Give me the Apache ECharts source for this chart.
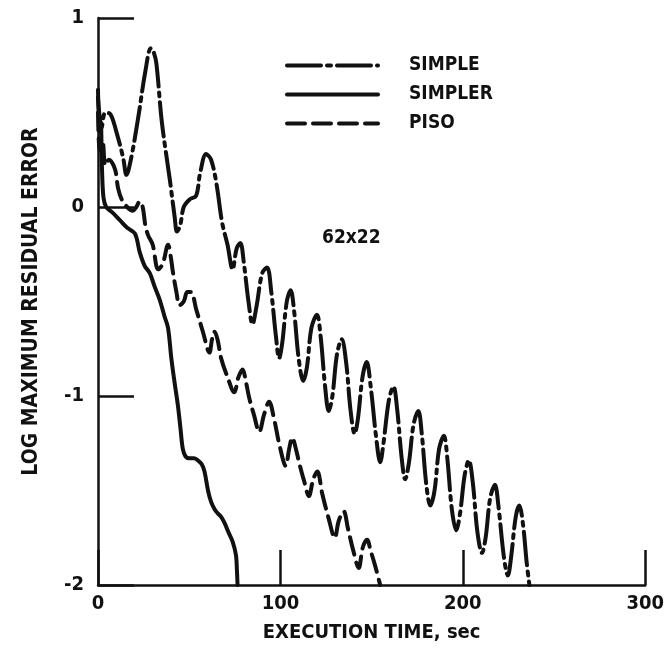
<!DOCTYPE html>
<html>
<head>
<meta charset="utf-8">
<title>Log maximum residual error vs execution time</title>
<script src="https://cdn.jsdelivr.net/npm/echarts@6/dist/echarts.min.js"></script>
<style>
  html, body { margin: 0; padding: 0; background: #fff; }
  #chart { width: 667px; height: 658px; }
</style>
</head>
<body>
<div id="chart"></div>
<script>
// Convergence histories on the 62x22 grid: [execution time (s), log10 of max residual]
var simple = [
  [0, 0.58], [2, 0.42], [4, 0.5], [6.9, 0.49], [10, 0.40], [13.8, 0.26], [15.6, 0.17],
  [18, 0.25], [22, 0.47], [26, 0.72], [29, 0.84], [30.5, 0.82], [32, 0.76], [35, 0.45],
  [39.3, 0.15], [42, -0.05], [43.3, -0.13], [45, -0.1], [47, 0.0], [50.2, 0.04],
  [53.8, 0.06], [56, 0.18], [59.3, 0.28], [62, 0.25], [65, 0.12], [68, -0.08],
  [71, -0.2], [73.8, -0.33], [76, -0.22], [78, -0.19], [80, -0.3], [82.5, -0.5],
  [84.7, -0.62], [87, -0.52], [90, -0.35], [92.7, -0.32], [95, -0.45], [97.5, -0.68],
  [99.3, -0.80], [101, -0.72], [103.5, -0.5], [105.6, -0.44], [107.5, -0.55],
  [110, -0.8], [112.5, -0.92], [114.5, -0.85], [117, -0.64], [120, -0.57], [122, -0.68],
  [124.5, -0.95], [126.5, -1.08], [128.5, -1.0], [131, -0.78], [133.6, -0.70],
  [136, -0.82], [138.5, -1.08], [140.7, -1.20], [142.5, -1.12], [145, -0.9],
  [147.3, -0.82], [149.5, -0.95], [152.5, -1.22], [154.7, -1.35], [156.5, -1.25],
  [159.5, -1.02], [162, -0.95], [164, -1.07], [166.5, -1.33], [168.4, -1.44],
  [170.5, -1.35], [173, -1.15], [175.6, -1.08], [177.5, -1.2], [180, -1.47],
  [182.2, -1.58], [184.5, -1.5], [187, -1.28], [189.6, -1.21], [191.5, -1.33],
  [194, -1.6], [196.4, -1.71], [198.5, -1.62], [201, -1.42], [203.3, -1.34],
  [205.5, -1.46], [208, -1.72], [210.5, -1.83], [212.5, -1.75], [215, -1.54],
  [217.6, -1.47], [219.5, -1.58], [222.5, -1.85], [224.7, -1.95], [226.5, -1.85],
  [229, -1.64], [231, -1.58], [233, -1.68], [235, -1.88], [236.5, -2.0]
];

var simpler = [
  [0, 0.62], [0.8, 0.4], [1.5, 0.45], [2.2, 0.2], [3, 0.05], [4.5, 0.0], [8, -0.03],
  [12, -0.07], [16, -0.11], [20.2, -0.14], [22.9, -0.24], [25.5, -0.31], [28.4, -0.35],
  [31, -0.42], [33.8, -0.49], [36.5, -0.58], [38.4, -0.64], [40.2, -0.80], [42, -0.93],
  [43.8, -1.05], [45.2, -1.17], [46.5, -1.28], [48, -1.32], [50.2, -1.33],
  [52.5, -1.33], [54.7, -1.34], [56.8, -1.36], [58.4, -1.40], [60.3, -1.5], [62, -1.56],
  [64, -1.6], [65.6, -1.62], [67.5, -1.64], [69.3, -1.67], [71.5, -1.72], [73.8, -1.77],
  [75.6, -1.84], [76.2, -1.93], [76.5, -2.0]
];

var piso = [
  [0, 0.5], [1, 0.3], [2.5, 0.35], [4, 0.22], [6, 0.25], [9.3, 0.2], [11, 0.1],
  [13, 0.04], [16, 0.0], [19, -0.02], [21, 0.0], [22.9, 0.03], [24.5, 0.0], [26, -0.1],
  [27.5, -0.15], [30, -0.2], [33, -0.33], [35.5, -0.3], [38.4, -0.2], [40, -0.27],
  [41, -0.34], [43, -0.45], [44.7, -0.52], [47, -0.5], [49, -0.45], [51, -0.45],
  [53.8, -0.54], [57.5, -0.66], [61.1, -0.77], [62.5, -0.70], [63.8, -0.66],
  [65.5, -0.70], [67.5, -0.80], [71, -0.90], [74.7, -0.98], [77, -0.9], [79.3, -0.86],
  [81, -0.92], [82.9, -1.01], [85.5, -1.1], [88.4, -1.19], [91, -1.1], [93.8, -1.03],
  [96.5, -1.12], [99.5, -1.26], [102.9, -1.37], [104.8, -1.28], [106.5, -1.22],
  [108.5, -1.28], [110.2, -1.35], [113, -1.45], [115.6, -1.53], [118, -1.44],
  [120.2, -1.40], [123, -1.52], [126.5, -1.65], [129.8, -1.75], [132, -1.66],
  [134.7, -1.61], [137, -1.70], [140, -1.82], [142.9, -1.91], [145.2, -1.8],
  [147.5, -1.76], [149.5, -1.82], [152, -1.9], [154.7, -2.0]
];

var seriesNames = ['SIMPLE', 'SIMPLER', 'PISO'];
var xTicks = [0, 100, 200, 300];
var yTicks = [-2, -1, 0, 1];
var gridLabel = '62x22';

var FONT = "'Liberation Sans Narrow', 'DejaVu Sans Condensed', 'Noto Sans', sans-serif";
var INK = '#111';

var chart = echarts.init(document.getElementById('chart'), null, { renderer: 'canvas' });

function lineSeries(name, data, type) {
  return {
    name: name,
    type: 'line',
    data: data,
    smooth: 0.35,
    symbol: 'none',
    lineStyle: { color: INK, width: 4, type: type, cap: 'round', join: 'round' },
    itemStyle: { color: INK },
    z: 3
  };
}

var labelFont = { fontFamily: FONT, fontSize: 20, fontWeight: 'bold', color: INK };

chart.setOption({
  backgroundColor: '#fff',
  animation: false,
  textStyle: { fontFamily: FONT, color: INK },
  grid: { left: 98, right: 19, top: 18, bottom: 73 },
  legend: {
    orient: 'vertical',
    left: 285,
    top: 56,
    padding: 0,
    itemWidth: 91,
    itemHeight: 14,
    itemGap: 10,
    data: seriesNames,
    itemStyle: { opacity: 0 },
    lineStyle: { width: 4, color: INK },
    textStyle: { fontFamily: FONT, fontSize: 19, fontWeight: 'bold', color: INK, padding: [0, 0, 0, 26] }
  },
  xAxis: {
    type: 'value',
    min: xTicks[0],
    max: xTicks[xTicks.length - 1],
    interval: 100,
    name: 'EXECUTION TIME, sec',
    nameLocation: 'middle',
    nameGap: 38,
    nameTextStyle: labelFont,
    axisLine: { show: true, onZero: false, lineStyle: { color: INK, width: 2.5 } },
    axisTick: { show: true, inside: true, length: 35, lineStyle: { color: INK, width: 2.5 } },
    axisLabel: { fontFamily: FONT, fontSize: 20, fontWeight: 'bold', color: INK, margin: 9 },
    splitLine: { show: false }
  },
  yAxis: {
    type: 'value',
    min: yTicks[0],
    max: yTicks[yTicks.length - 1],
    interval: 1,
    name: 'LOG MAXIMUM RESIDUAL ERROR',
    nameLocation: 'middle',
    nameGap: 56,
    nameTextStyle: { fontFamily: FONT, fontSize: 21, fontWeight: 'bold', color: INK },
    axisLine: { show: true, onZero: false, lineStyle: { color: INK, width: 2.5 } },
    axisTick: { show: true, inside: true, length: 36, lineStyle: { color: INK, width: 2.5 } },
    axisLabel: { fontFamily: FONT, fontSize: 20, fontWeight: 'bold', color: INK, margin: 14 },
    splitLine: { show: false }
  },
  graphic: [{
    type: 'text',
    left: 322,
    top: 229,
    style: { text: gridLabel, fontFamily: FONT, fontSize: 19, fontWeight: 'bold', fill: INK }
  }],
  series: [
    lineSeries(seriesNames[0], simple, [34, 6, 4, 6]),
    lineSeries(seriesNames[1], simpler, 'solid'),
    lineSeries(seriesNames[2], piso, [18, 8])
  ]
});
</script>
</body>
</html>
